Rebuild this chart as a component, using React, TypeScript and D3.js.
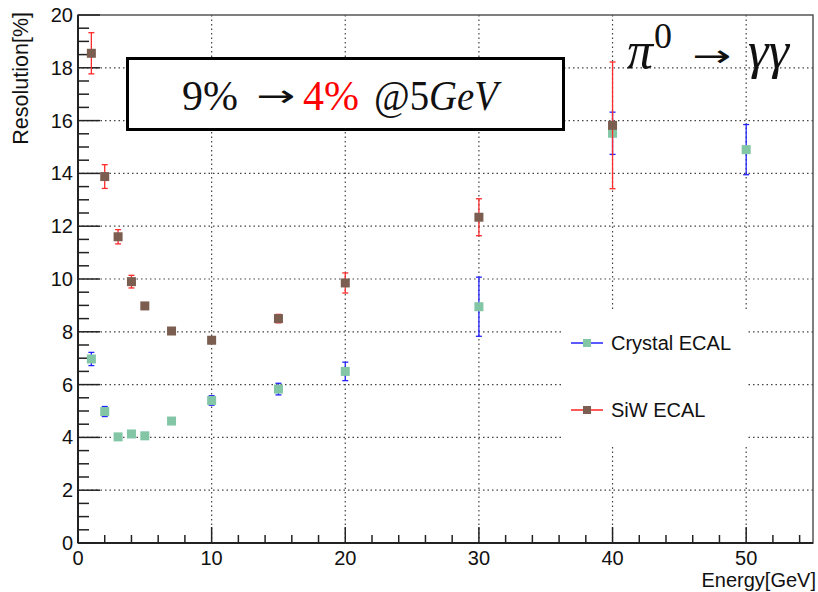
import React from "react";
import * as d3 from "d3";

const energies = [1, 2, 3, 4, 5, 7, 10, 15, 20, 30, 40, 50];
const crystalRes = [6.97, 4.98, 4.02, 4.13, 4.06, 4.62, 5.4, 5.83, 6.5, 8.95, 15.52, 14.9];
const crystalErr = [0.25, 0.19, 0.05, 0.05, 0.05, 0.12, 0.18, 0.22, 0.35, 1.12, 0.8, 0.95];
const siwEnergies = [1, 2, 3, 4, 5, 7, 10, 15, 20, 30, 40];
const siwRes = [18.55, 13.88, 11.6, 9.9, 8.98, 8.03, 7.68, 8.5, 9.85, 12.34, 15.82];
const siwErr = [0.78, 0.45, 0.27, 0.24, 0.05, 0.05, 0.05, 0.16, 0.38, 0.7, 2.4];
const xTicks = [0, 10, 20, 30, 40, 50];
const yTicks = [0, 2, 4, 6, 8, 10, 12, 14, 16, 18, 20];
const legendLabels = ["Crystal ECAL", "SiW ECAL"];

const W = 818;
const H = 592;
const L = 78, R = 813, T = 15, B = 543;

export default function App() {
  const x = d3.scaleLinear().domain([0, 55]).range([L, R]);
  const y = d3.scaleLinear().domain([0, 20]).range([B, T]);
  const xMinor = d3.range(0, 55.01, 2);
  const yMinor = d3.range(0, 20.01, 0.5);
  const gridColor = "#444";
  const sans = "'Liberation Sans', Arial, Helvetica, sans-serif";
  const serif = "'Liberation Serif', 'DejaVu Serif', serif";
  const arrowFont = "'DejaVu Sans', sans-serif";

  const crystal = energies.map((e, i) => ({ e, v: crystalRes[i], err: crystalErr[i] }));
  const siw = siwEnergies.map((e, i) => ({ e, v: siwRes[i], err: siwErr[i] }));

  const errBars = (data: { e: number; v: number; err: number }[], color: string) =>
    data.map((d, i) => (
      <g key={i} stroke={color} strokeWidth={1.3}>
        <line x1={x(d.e)} x2={x(d.e)} y1={y(d.v + d.err)} y2={y(d.v - d.err)} />
        <line x1={x(d.e) - 3} x2={x(d.e) + 3} y1={y(d.v + d.err)} y2={y(d.v + d.err)} />
        <line x1={x(d.e) - 3} x2={x(d.e) + 3} y1={y(d.v - d.err)} y2={y(d.v - d.err)} />
      </g>
    ));
  const markers = (data: { e: number; v: number }[], color: string) =>
    data.map((d, i) => (
      <rect key={i} x={x(d.e) - 4.5} y={y(d.v) - 4.5} width={9} height={9} fill={color} />
    ));

  return (
    <svg width={W} height={H} style={{ position: "absolute", left: 0, top: 0, background: "#fff" }}>
      <rect x={0} y={0} width={W} height={H} fill="#fff" />
      {/* grid */}
      <g stroke={gridColor} strokeWidth={1.2} strokeDasharray="1.5,3">
        {xTicks.filter((t) => t > 0).map((t) => (
          <line key={"gx" + t} x1={x(t)} x2={x(t)} y1={T} y2={B} />
        ))}
        {yTicks.filter((t) => t > 0 && t < 20).map((t) => (
          <line key={"gy" + t} x1={L} x2={R} y1={y(t)} y2={y(t)} />
        ))}
      </g>
      {/* legend background */}
      <rect x={561} y={309} width={187} height={135} fill="#fff" />
      {/* title box */}
      <rect x={127.5} y={58.5} width={436} height={71} fill="#fff" stroke="#000" strokeWidth={3} />
      <g fontFamily={serif} fontSize={42} fill="#111">
        <text x={182} y={110}>9%</text>
        <text transform="translate(256,106) scale(1.55,1)" x={0} y={0} fontFamily={arrowFont} fontSize={30}>→</text>
        <text x={303} y={110} fill="#ff0000">4%</text>
        <text x={374} y={110} textLength={124} lengthAdjust="spacingAndGlyphs">
          @5<tspan fontStyle="italic">GeV</tspan>
        </text>
      </g>
      <g fontFamily={serif} fill="#111">
        <text x={627} y={68} fontSize={52} fontStyle="italic" textLength={26} lengthAdjust="spacingAndGlyphs">π</text>
        <text x={654} y={48} fontSize={36}>0</text>
        <text transform="translate(692,66) scale(1.55,1)" x={0} y={0} fontFamily={arrowFont} fontSize={30}>→</text>
        <text x={748} y={68} fontSize={52} fontStyle="italic">γγ</text>
      </g>
      {/* frame */}
      <rect x={L} y={T} width={R - L} height={B - T} fill="none" stroke="#555" strokeWidth={1.5} />
      <line x1={L} x2={L} y1={T} y2={B} stroke="#222" strokeWidth={2} />
      <line x1={L} x2={R} y1={B} y2={B} stroke="#222" strokeWidth={2} />
      {/* ticks */}
      <g stroke="#222" strokeWidth={1.5}>
        {xMinor.map((t) => (
          <line key={"xm" + t} x1={x(t)} x2={x(t)} y1={B} y2={B - (t % 10 === 0 ? 16 : 8)} />
        ))}
        {yMinor.map((t) => (
          <line key={"ym" + t} x1={L} x2={L + (t % 2 === 0 ? 22 : 11)} y1={y(t)} y2={y(t)} />
        ))}
      </g>
      <g fontFamily={sans} fontSize={20} fill="#111">
        {xTicks.map((t) => (
          <text key={"xl" + t} x={x(t)} y={565} textAnchor="middle">
            {t}
          </text>
        ))}
        {yTicks.map((t) => (
          <text key={"yl" + t} x={73} y={y(t) + 7} textAnchor="end">
            {t}
          </text>
        ))}
      </g>
      <text
        transform={`translate(28,${T - 3}) rotate(-90)`}
        textAnchor="end"
        fontFamily={sans}
        fontSize={21.5}
        fill="#111"
      >
        Resolution[%]
      </text>
      <text x={816} y={587} textAnchor="end" fontFamily={sans} fontSize={20} fill="#111">
        Energy[GeV]
      </text>
      {/* data */}
      {errBars(crystal, "#2222ff")}
      {markers(crystal, "#82c6a6")}
      {errBars(siw, "#ff2a2a")}
      {markers(siw, "#7b5e50")}
      {/* legend */}
      {legendLabels.map((lab, i) => {
        const ly = i === 0 ? 343 : 410;
        return (
          <g key={lab}>
            <line x1={571} x2={603} y1={ly} y2={ly} stroke={i === 0 ? "#5a5aff" : "#ff5a5a"} strokeWidth={2} />
            <rect x={583} y={ly - 4} width={8} height={8} fill={i === 0 ? "#82c6a6" : "#7b5e50"} />
            <text x={611} y={ly + 7} fontFamily={sans} fontSize={20} fill="#111">
              {lab}
            </text>
          </g>
        );
      })}
    </svg>
  );
}
